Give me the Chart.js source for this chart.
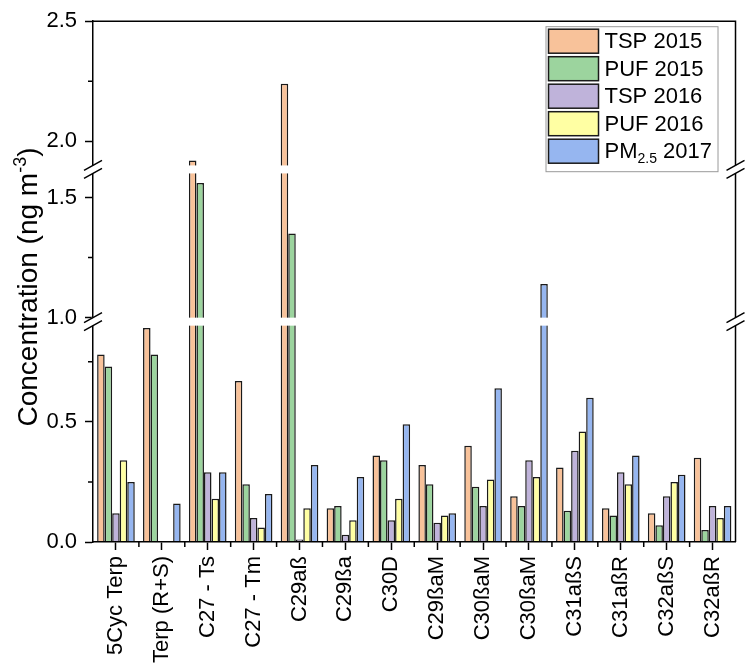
<!DOCTYPE html>
<html>
<head>
<meta charset="utf-8">
<script src="https://cdn.jsdelivr.net/npm/chart.js@4.4.1/dist/chart.umd.min.js"></script>
<style>
  html, body { margin: 0; padding: 0; background: #fff; }
</style>
</head>
<body>
<canvas id="chart" width="745" height="667"></canvas>
<script>
var compounds = ['5Cyc Terp', 'Terp (R+S)', 'C27 - Ts', 'C27 - Tm', 'C29aß', 'C29ßa', 'C30D',
                 'C29ßaM', 'C30ßaM', 'C30ßaM', 'C31aßS', 'C31aßR', 'C32aßS', 'C32aßR'];

var tsp2015 = [0.78, 0.89, 1.92, 0.67, 2.24, 0.14, 0.36, 0.32, 0.40, 0.19, 0.31, 0.14, 0.12, 0.35];
var puf2015 = [0.73, 0.78, 1.56, 0.24, 1.35, 0.15, 0.34, 0.24, 0.23, 0.15, 0.13, 0.11, 0.07, 0.05];
var tsp2016 = [0.12, 0, 0.29, 0.10, 0.01, 0.03, 0.09, 0.08, 0.15, 0.34, 0.38, 0.29, 0.19, 0.15];
var puf2016 = [0.34, 0, 0.18, 0.06, 0.14, 0.09, 0.18, 0.11, 0.26, 0.27, 0.46, 0.24, 0.25, 0.10];
var pm2017  = [0.25, 0.16, 0.29, 0.20, 0.32, 0.27, 0.49, 0.12, 0.64, 1.14, 0.60, 0.36, 0.28, 0.15];

// axis with two breaks
var yTicks = [0, 0.5, 1.0, 1.5, 2.0, 2.5];
var yMinorTicks = [0.25, 0.75, 1.25, 2.25];
var yRanges = [[0, 0.9], [1.0, 1.6], [1.9, 2.5]];

var GAP = 8;
var FONT = "'Liberation Sans', Arial, sans-serif";

class BrokenScale extends Chart.LinearScale {
    unitPx() {
        var span = 0;
        yRanges.forEach(function (r) { span += r[1] - r[0]; });
        return (this.height - GAP * (yRanges.length - 1)) / span;
    }
    getPixelForValue(value) {
        var unit = this.unitPx();
        var y = this.bottom;
        for (var i = 0; i < yRanges.length; i++) {
            var lo = yRanges[i][0], hi = yRanges[i][1];
            if (value <= hi || i === yRanges.length - 1) {
                return y - (Math.max(value, lo) - lo) * unit;
            }
            y -= (hi - lo) * unit + GAP;
        }
    }
    getValueForPixel(pixel) {
        var unit = this.unitPx();
        var y = this.bottom;
        for (var i = 0; i < yRanges.length; i++) {
            var lo = yRanges[i][0], hi = yRanges[i][1];
            var top = y - (hi - lo) * unit;
            if (pixel >= top || i === yRanges.length - 1) return lo + (y - pixel) / unit;
            y = top - GAP;
        }
    }
}
BrokenScale.id = 'broken';
BrokenScale.defaults = Chart.LinearScale.defaults;
Chart.register(BrokenScale);

// frame, breaks, minor ticks, legend and y title
var decorations = {
    id: 'decorations',
    afterDraw: function (chart) {
        var ctx = chart.ctx, a = chart.chartArea;
        var ys = chart.scales.y, xs = chart.scales.x;
        ctx.save();
        ctx.strokeStyle = '#000';
        ctx.lineWidth = 1.5;

        ctx.beginPath();
        ctx.moveTo(a.left, a.top);
        ctx.lineTo(a.right, a.top);
        ctx.lineTo(a.right, a.bottom);
        ctx.stroke();

        ctx.beginPath();
        yMinorTicks.forEach(function (v) {
            var p = ys.getPixelForValue(v);
            ctx.moveTo(a.left - 5, p);
            ctx.lineTo(a.left, p);
        });
        for (var i = 0; i < compounds.length - 1; i++) {
            var bx = (xs.getPixelForValue(i) + xs.getPixelForValue(i + 1)) / 2;
            ctx.moveTo(bx, a.bottom);
            ctx.lineTo(bx, a.bottom + 5);
        }
        ctx.stroke();

        for (var k = 0; k < yRanges.length - 1; k++) {
            var lowTop = ys.getPixelForValue(yRanges[k][1]);
            var highBottom = lowTop - GAP;
            ctx.fillStyle = '#fff';
            ctx.fillRect(a.left - 2, highBottom, a.right - a.left + 6, GAP);
            ctx.beginPath();
            [a.left, a.right].forEach(function (x0) {
                [lowTop, highBottom].forEach(function (y0) {
                    ctx.moveTo(x0 - 9, y0 + 5);
                    ctx.lineTo(x0 + 9, y0 - 5);
                });
            });
            ctx.stroke();
        }

        // legend
        var lx = a.right - 190, ly = a.top + 5;
        ctx.lineWidth = 1;
        ctx.strokeStyle = '#999';
        ctx.strokeRect(lx + 0.5, ly + 0.5, 172, 145);
        chart.data.datasets.forEach(function (ds, i) {
            var ry = ly + 3 + i * 27.5;
            ctx.fillStyle = ds.backgroundColor;
            ctx.fillRect(lx + 3, ry, 50, 24);
            ctx.lineWidth = 1.5;
            ctx.strokeStyle = '#1a1a1a';
            ctx.strokeRect(lx + 3, ry, 50, 24);
            ctx.fillStyle = '#000';
            ctx.textBaseline = 'middle';
            ctx.textAlign = 'left';
            var tx = lx + 59, ty = ry + 13;
            if (ds.label.indexOf('PM2.5') === 0) {
                ctx.font = '22px ' + FONT;
                ctx.fillText('PM', tx, ty);
                tx += ctx.measureText('PM').width;
                ctx.font = '14px ' + FONT;
                ctx.fillText('2.5', tx, ty + 7);
                tx += ctx.measureText('2.5').width;
                ctx.font = '22px ' + FONT;
                ctx.fillText(ds.label.slice(5), tx, ty);
            } else {
                ctx.font = '22px ' + FONT;
                ctx.fillText(ds.label, tx, ty);
            }
        });

        // y axis title with superscript
        var parts = [['Concentration (ng m', 28, 0], ['-3', 18, -11], [')', 28, 0]];
        var total = 0;
        parts.forEach(function (p) {
            ctx.font = p[1] + 'px ' + FONT;
            p.push(ctx.measureText(p[0]).width);
            total += p[3];
        });
        ctx.translate(37, 287);
        ctx.rotate(-Math.PI / 2);
        ctx.textBaseline = 'alphabetic';
        ctx.textAlign = 'left';
        ctx.fillStyle = '#000';
        var cx = -total / 2;
        parts.forEach(function (p) {
            ctx.font = p[1] + 'px ' + FONT;
            ctx.fillText(p[0], cx, p[2]);
            cx += p[3];
        });
        ctx.restore();
    }
};

function makeSet(label, data, color) {
    return {
        label: label,
        data: data,
        backgroundColor: color,
        borderColor: '#1a1a1a',
        borderWidth: 1.5,
        barPercentage: 1.0,
        categoryPercentage: 0.82
    };
}

var ctx = document.getElementById('chart');
var myChart = new Chart(ctx, {
    type: 'bar',
    data: {
        labels: compounds,
        datasets: [
            makeSet('TSP 2015', tsp2015, '#f8c29a'),
            makeSet('PUF 2015', puf2015, '#9cd49e'),
            makeSet('TSP 2016', tsp2016, '#bfb3da'),
            makeSet('PUF 2016', puf2016, '#ffffa3'),
            makeSet('PM2.5 2017', pm2017, '#96b6f0')
        ]
    },
    options: {
        responsive: false,
        animation: false,
        devicePixelRatio: 1,
        layout: { padding: { top: 17, right: 1, left: 0, bottom: 0 } },
        plugins: {
            legend: { display: false },
            tooltip: { enabled: false }
        },
        scales: {
            x: {
                type: 'category',
                afterFit: function (s) { s.height = 125; },
                grid: { display: true, drawOnChartArea: false, offset: false, tickLength: 8, tickWidth: 1.5, tickColor: '#000' },
                border: { display: true, color: '#000', width: 1.5, z: 1 },
                ticks: {
                    autoSkip: false, maxRotation: 90, minRotation: 90, padding: 6,
                    color: '#000', font: { family: FONT, size: 22 }
                }
            },
            y: {
                type: 'broken',
                min: 0,
                max: 2.5,
                afterFit: function (s) { s.width = 93; },
                afterBuildTicks: function (s) {
                    s.ticks = yTicks.map(function (v) { return { value: v }; });
                },
                grid: { display: true, drawOnChartArea: false, tickLength: 8, tickWidth: 1.5, tickColor: '#000' },
                border: { display: true, color: '#000', width: 1.5 },
                ticks: {
                    autoSkip: false, padding: 8, color: '#000',
                    font: { family: FONT, size: 22 },
                    callback: function (v) { return Number(v).toFixed(1); }
                }
            }
        }
    },
    plugins: [decorations]
});
</script>
</body>
</html>
